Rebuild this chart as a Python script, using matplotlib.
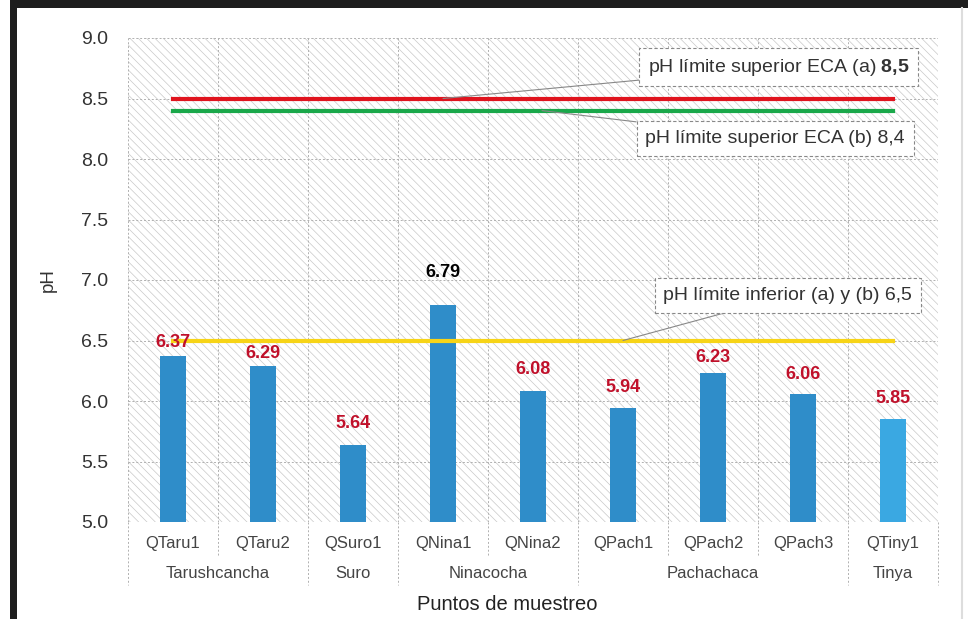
import matplotlib
matplotlib.use('Agg')
import matplotlib.pyplot as plt
from matplotlib.patches import Rectangle
from matplotlib.lines import Line2D
import matplotlib.transforms as mtransforms

# datos
puntos = ['QTaru1', 'QTaru2', 'QSuro1', 'QNina1', 'QNina2',
          'QPach1', 'QPach2', 'QPach3', 'QTiny1']
ph = [6.37, 6.29, 5.64, 6.79, 6.08, 5.94, 6.23, 6.06, 5.85]
grupos = ['Tarushcancha', 'Suro', 'Ninacocha', 'Pachachaca', 'Tinya']
grupo_n = [2, 1, 2, 3, 1]  # cuantos puntos por grupo
lim_sup_a = 8.5
lim_sup_b = 8.4
lim_inf = 6.5

plt.rcParams['font.family'] = ['Liberation Sans', 'DejaVu Sans']
plt.rcParams['mathtext.fontset'] = 'custom'
plt.rcParams['mathtext.rm'] = 'Liberation Sans'
plt.rcParams['mathtext.bf'] = 'Liberation Sans:bold'
plt.rcParams['hatch.linewidth'] = 0.5

fig = plt.figure(figsize=(9.68, 6.19), dpi=100)
ax = fig.add_axes([128/968, 1-522/619, 810/968, 484/619])

x = list(range(len(puntos)))
ax.set_xlim(-0.5, len(puntos) - 0.5)
ax.set_ylim(5.0, 9.0)

# fondo rayado
ax.add_patch(Rectangle((0, 0), 1, 1, transform=ax.transAxes, facecolor='white',
                       edgecolor='#c8c8c8', hatch='\\\\\\\\', lw=0, zorder=0))

# rejilla punteada
for yv in [5.0, 5.5, 6.0, 6.5, 7.0, 7.5, 8.0, 8.5, 9.0]:
    ax.axhline(yv, color='#b0b0b0', lw=0.7, ls=(0, (2, 2)), zorder=1)
for xv in range(len(puntos) + 1):
    ax.axvline(xv - 0.5, color='#b0b0b0', lw=0.7, ls=(0, (2, 2)), zorder=1)

colores = ['#2f8dc9'] * 8 + ['#3aa8e2']
ax.bar(x, ph, width=0.29, bottom=0, color=colores, zorder=3)

# etiquetas de valor (desfase en puntos hasta el centro del texto)
desfase = [10, 9, 15, 24, 16, 15, 11, 14, 15]
for i, v in enumerate(ph):
    col = 'black' if i == 3 else '#c0102a'
    ax.annotate(f'{v:.2f}', (i, v), xytext=(0, desfase[i]), textcoords='offset points',
                ha='center', va='center', fontsize=13, fontweight='bold', color=col, zorder=5)

# limites ECA
ax.plot([0, 8], [lim_sup_a, lim_sup_a], color='#e0141e', lw=3, zorder=4)
ax.plot([0, 8], [lim_sup_b, lim_sup_b], color='#1aa84a', lw=3, zorder=4)
ax.plot([0, 8], [lim_inf, lim_inf], color='#f7d417', lw=3, zorder=4)

caja = dict(boxstyle='square,pad=0.45', fc='white', ec='#888888', lw=0.8, ls=(0, (3, 2)))
flecha = dict(arrowstyle='-', color='#888888', lw=0.8, shrinkA=0, shrinkB=0)
ax.annotate('pH límite superior ECA (a) $\\mathbf{8{,}5}$', (3.0, lim_sup_a), xytext=(6.73, 8.76),
            ha='center', va='center', fontsize=14, color='#333333', bbox=caja,
            arrowprops=flecha, zorder=6)
ax.annotate('pH límite superior ECA (b) 8,4', (4.1, lim_sup_b), xytext=(6.69, 8.17),
            ha='center', va='center', fontsize=14, color='#333333', bbox=caja,
            arrowprops=flecha, zorder=6)
ax.annotate('pH límite inferior (a) y (b) 6,5', (5.0, lim_inf), xytext=(6.83, 6.87),
            ha='center', va='center', fontsize=14, color='#333333', bbox=caja,
            arrowprops=flecha, zorder=6)

# ejes
for s in ax.spines.values():
    s.set_visible(False)
ax.set_xticks(x)
ax.set_xticklabels([])
ax.tick_params(length=0)
ax.set_yticks([5.0, 5.5, 6.0, 6.5, 7.0, 7.5, 8.0, 8.5, 9.0])
ax.set_yticklabels([f'{v:.1f}' for v in ax.get_yticks()], fontsize=14, color='#333333')
ax.tick_params(axis='y', pad=14)
ax.set_ylabel('pH', fontsize=13.5, color='#333333', labelpad=18)

trans = mtransforms.blended_transform_factory(ax.transData, ax.transAxes)
for i, p in enumerate(puntos):
    ax.text(i, -0.045, p, transform=trans, ha='center', va='center', fontsize=12, color='#444444')

inicio = 0
limites = [-0.5]
for g, n in zip(grupos, grupo_n):
    centro = inicio + (n - 1) / 2
    ax.text(centro, -0.107, g, transform=trans, ha='center', va='center', fontsize=12, color='#444444')
    inicio += n
    limites.append(inicio - 0.5)

for xv in range(len(puntos) + 1):
    largo = -0.13 if (xv - 0.5) in limites else -0.07
    ax.add_line(Line2D([xv - 0.5, xv - 0.5], [0, largo], transform=trans, color='#b0b0b0',
                       lw=0.7, ls=(0, (2, 2)), clip_on=False))

fig.text(507/968, 1-605/619, 'Puntos de muestreo', ha='center', va='center',
         fontsize=14.5, color='#222222')

# marco
fig.add_artist(Rectangle((10/968, 1-8/619), 1, 8/619, transform=fig.transFigure,
                         facecolor='#1e1e1e', edgecolor='none'))
fig.add_artist(Rectangle((10/968, 0), 7/968, 1, transform=fig.transFigure,
                         facecolor='#1e1e1e', edgecolor='none'))
fig.add_artist(Line2D([962/968, 962/968], [0, 1-8/619], transform=fig.transFigure,
                      color='#dddddd', lw=1.5))

fig.savefig('out.png', dpi=100)
